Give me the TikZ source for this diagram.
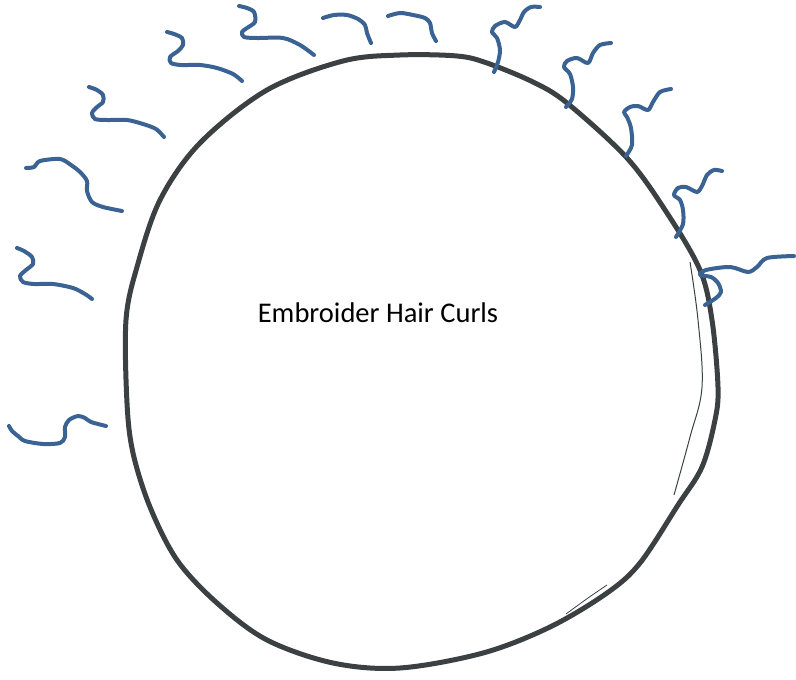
\documentclass[tikz,border=0pt]{standalone}
\usepackage{fontspec}
\setmainfont{Carlito}
\definecolor{hairblue}{HTML}{3A6293}
\definecolor{rimgray}{HTML}{3B4043}
\tikzset{
  curl/.style={draw=hairblue, line width=4pt, line cap=round, line join=round},
  rim/.style={draw=rimgray, line width=5pt, line join=round},
  thinrim/.style={draw=rimgray, line width=1pt},
  label/.style={font=\fontsize{28.5}{32}\selectfont, text=black, inner sep=0pt}
}
\begin{document}
\begin{tikzpicture}[x=1pt,y=-1pt]
\useasboundingbox (0,0) rectangle (796,680);
% head outline
\draw[rim] plot[smooth cycle, tension=0.55] coordinates {
 (400,55) (457,56) (487,63) (533,82) (567,103) (627,158) (667,213) (700,270)
 (712,320) (718,387) (715,420) (702,467) (678,505) (640,563) (607,593) (550,627)
 (483,653) (400,668) (333,663) (267,640) (217,603) (177,560) (150,507) (133,453)
 (127,403) (126,320) (137,267) (160,200) (200,143) (267,90) (343,61)};
% thin inner strokes
\draw[thinrim] plot[smooth, tension=0.6] coordinates {(690,262) (698,320) (702,387) (690,437) (674,495)};
\draw[thinrim, line width=0.8pt] plot[smooth, tension=0.6] coordinates {(566,614) (588,598) (607,585)};
% curls
\draw[curl] plot[smooth, tension=0.5] coordinates {(9,426) (12,431) (18,436) (25,441) (43,444) (60,443) (65,437) (65,427) (69,420) (78,416) (85,418) (91,422) (106,426)};
\draw[curl] plot[smooth, tension=0.5] coordinates {(17,248) (24,251) (32,257) (33,264) (26,270) (20,276) (23,282) (34,284) (53,284) (73,288) (85,294) (92,299)};
\draw[curl] plot[smooth, tension=0.5] coordinates {(26,168) (34,167) (40,161) (60,159) (71,165) (80,172) (87,181) (87,191) (92,202) (103,207) (122,211)};
\draw[curl] plot[smooth, tension=0.5] coordinates {(89,87) (97,90) (103,95) (103,102) (97,107) (92,113) (95,119) (107,120) (127,120) (143,124) (156,129) (164,137)};
\draw[curl] plot[smooth, tension=0.5] coordinates {(167,32) (174,34) (182,38) (183,45) (178,51) (170,57) (171,63) (181,65) (200,65) (217,68) (233,74) (242,81)};
\draw[curl] plot[smooth, tension=0.5] coordinates {(239,6) (247,8) (254,12) (255,22) (247,28) (242,32) (244,37) (257,38) (283,38) (300,45) (314,55)};
\draw[curl] plot[smooth, tension=0.5] coordinates {(323,18) (334,15) (347,15) (358,19) (365,25) (367,33) (371,43)};
\draw[curl] plot[smooth, tension=0.5] coordinates {(388,16) (400,13) (413,15) (425,18) (430,23) (432,33) (436,41)};
\draw[curl] plot[smooth, tension=0.5] coordinates {(494,72) (498,62) (500,50) (497,38) (492,32) (495,26) (505,22) (515,27) (520,20) (524,12) (531,7) (540,7)};
\draw[curl] plot[smooth, tension=0.5] coordinates {(566,107) (572,99) (573,87) (570,74) (564,67) (567,61) (577,58) (588,63) (593,53) (600,45) (611,43)};
\draw[curl] plot[smooth, tension=0.5] coordinates {(626,156) (632,145) (631,128) (627,117) (624,112) (630,107) (638,106) (648,110) (653,102) (660,92) (671,89)};
\draw[curl] plot[smooth, tension=0.5] coordinates {(676,237) (683,224) (683,210) (680,200) (674,195) (678,188) (686,187) (697,192) (702,186) (707,175) (714,170) (722,171)};
\draw[curl] plot[smooth, tension=0.5] coordinates {(705,305) (716,298) (721,292) (718,283) (711,277) (700,275) (706,270) (730,267) (748,272) (757,267) (767,258) (794,256)};
% label
\node[label, anchor=base] (title) at (378,322) {Embroider Hair Curls};
\end{tikzpicture}
\end{document}
